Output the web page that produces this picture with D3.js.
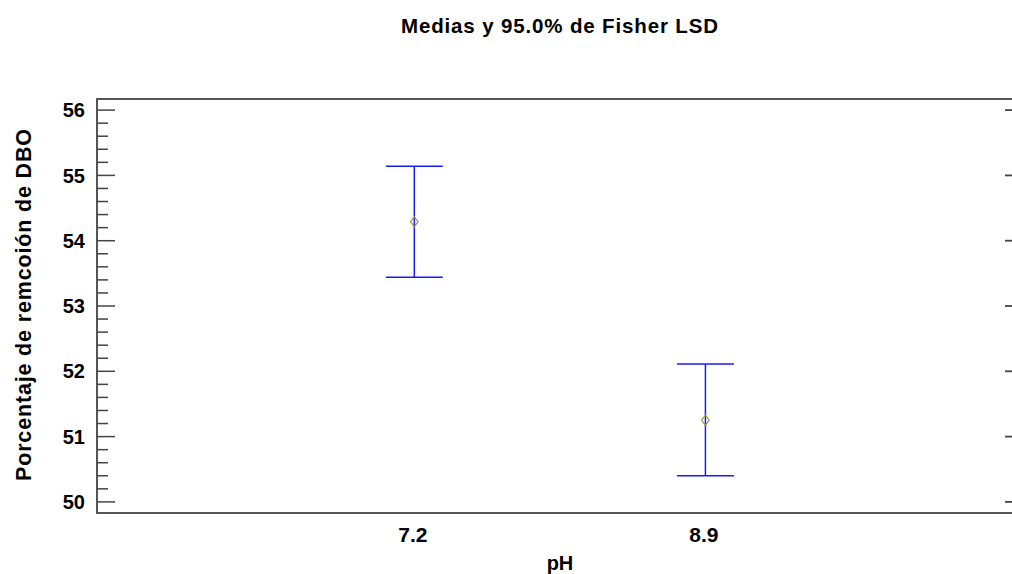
<!DOCTYPE html>
<html>
<head>
<meta charset="utf-8">
<script src="https://cdn.jsdelivr.net/npm/d3@7"></script>
<style>
  body { margin: 0; background: #fff; }
  text { font-family: Arial, "Liberation Sans", sans-serif; font-weight: bold; fill: #000; }
</style>
</head>
<body>
<div id="chart"></div>
<script>
// pH levels and the LSD intervals
var categories = ['7.2', '8.9'];
var means = [54.29, 51.25];
var lower = [53.44, 50.40];
var upper = [55.14, 52.11];
var yTicks = [50, 51, 52, 53, 54, 55, 56];

var width = 1012,
    height = 574;

var plotLeft = 97, plotRight = 1014, plotTop = 99, plotBottom = 513;

var svg = d3.select('#chart')
    .append('svg')
        .attr('width', width)
        .attr('height', height);

var y = d3.scaleLinear()
    .domain([49.83, 56.17])
    .range([plotBottom, plotTop]);

// index of the level -> x
var x = d3.scaleLinear()
    .domain([-0.09, 3.06])
    .range([plotLeft, plotRight]);

// frame
svg.append('rect')
    .attr('x', plotLeft)
    .attr('y', plotTop)
    .attr('width', plotRight - plotLeft)
    .attr('height', plotBottom - plotTop)
    .attr('fill', 'none')
    .attr('stroke', '#444')
    .attr('stroke-width', 1.8);

// minor ticks every 0.2
var minor = d3.range(50, 56.001, 0.2).filter(function (v) {
    return Math.abs(v - Math.round(v)) > 0.01;
});

svg.append('g')
    .selectAll('line')
    .data(minor)
    .enter()
    .append('line')
        .attr('x1', plotLeft)
        .attr('x2', plotLeft + 11)
        .attr('y1', function (d) { return y(d); })
        .attr('y2', function (d) { return y(d); })
        .attr('stroke', '#444')
        .attr('stroke-width', 1.5);

svg.append('g')
    .selectAll('line')
    .data(yTicks)
    .enter()
    .append('line')
        .attr('x1', plotLeft)
        .attr('x2', plotLeft + 18)
        .attr('y1', function (d) { return y(d); })
        .attr('y2', function (d) { return y(d); })
        .attr('stroke', '#444')
        .attr('stroke-width', 1.5);

// right side major ticks
svg.append('g')
    .selectAll('line')
    .data(yTicks)
    .enter()
    .append('line')
        .attr('x1', plotRight - 9)
        .attr('x2', plotRight)
        .attr('y1', function (d) { return y(d); })
        .attr('y2', function (d) { return y(d); })
        .attr('stroke', '#444')
        .attr('stroke-width', 1.8);

svg.append('g')
    .selectAll('text')
    .data(yTicks)
    .enter()
    .append('text')
        .attr('x', 85)
        .attr('y', function (d) { return y(d); })
        .attr('dy', '0.36em')
        .attr('text-anchor', 'end')
        .style('font-size', '20px')
        .text(function (d) { return d; });

svg.append('g')
    .selectAll('text')
    .data(categories)
    .enter()
    .append('text')
        .attr('x', function (d, i) { return x(i + 1) - 1.5; })
        .attr('y', 542)
        .attr('text-anchor', 'middle')
        .style('font-size', '21px')
        .text(function (d) { return d; });

// titles
svg.append('text')
    .attr('x', 559.5)
    .attr('y', 33)
    .attr('text-anchor', 'middle')
    .attr('textLength', 317)
    .attr('lengthAdjust', 'spacing')
    .style('font-size', '20.5px')
    .text('Medias y 95.0% de Fisher LSD');

svg.append('text')
    .attr('x', 560)
    .attr('y', 570)
    .attr('text-anchor', 'middle')
    .style('font-size', '20px')
    .text('pH');

svg.append('text')
    .attr('transform', 'translate(31,305) rotate(-90)')
    .attr('text-anchor', 'middle')
    .attr('textLength', 352)
    .attr('lengthAdjust', 'spacing')
    .style('font-size', '21.5px')
    .text('Porcentaje de remcoión de DBO');

// error bars
var bars = svg.append('g');
var capHalf = 28.5;

categories.forEach(function (c, i) {
    var cx = x(i + 1);
    bars.append('line')
        .attr('x1', cx).attr('x2', cx)
        .attr('y1', y(upper[i])).attr('y2', y(lower[i]))
        .attr('stroke', '#1a1aff').attr('stroke-width', 1.5);
    bars.append('line')
        .attr('x1', cx - capHalf).attr('x2', cx + capHalf)
        .attr('y1', y(upper[i])).attr('y2', y(upper[i]))
        .attr('stroke', '#1a1aff').attr('stroke-width', 1.5);
    bars.append('line')
        .attr('x1', cx - capHalf).attr('x2', cx + capHalf)
        .attr('y1', y(lower[i])).attr('y2', y(lower[i]))
        .attr('stroke', '#1a1aff').attr('stroke-width', 1.5);
    bars.append('path')
        .attr('d', d3.symbol().type(d3.symbolDiamond).size(30)())
        .attr('transform', 'translate(' + cx + ',' + y(means[i]) + ') scale(1.3,1)')
        .attr('fill', 'none')
        .attr('stroke', '#9a9a30')
        .attr('stroke-width', 1);
});
</script>
</body>
</html>
